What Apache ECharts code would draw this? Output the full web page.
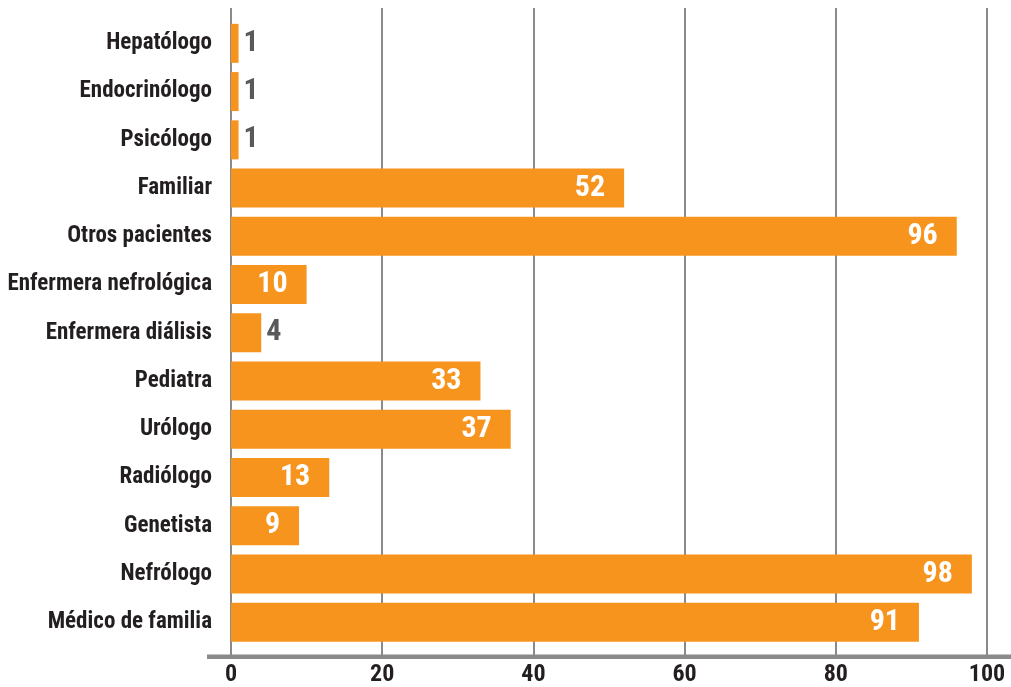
<!DOCTYPE html>
<html>
<head>
<meta charset="utf-8">
<style>
  html, body { margin: 0; padding: 0; background: #ffffff; }
  #chart { width: 1011px; height: 687px; }
</style>
<script src="https://cdn.jsdelivr.net/npm/echarts@6/dist/echarts.min.js"></script>
</head>
<body>
<div id="chart"></div>
<script>
// Professionals consulted, top to bottom
const categories = [
  'Hepatólogo', 'Endocrinólogo', 'Psicólogo', 'Familiar', 'Otros pacientes',
  'Enfermera nefrológica', 'Enfermera diálisis', 'Pediatra', 'Urólogo',
  'Radiólogo', 'Genetista', 'Nefrólogo', 'Médico de familia'
];
const counts = [1, 1, 1, 52, 96, 10, 4, 33, 37, 13, 9, 98, 91];
const axisTicks = [0, 20, 40, 60, 80, 100];

const FONT = '"Roboto Condensed", "Open Sans Condensed", sans-serif';
const ORANGE = '#F7941E';
const GRID_GRAY = '#8a8a8b';

// Short bars get their value outside in gray, longer ones inside in white
const barData = counts.map(v => v < 5
  ? { value: v, label: { position: 'right', color: '#58595b', distance: 5 } }
  : { value: v, label: { position: 'insideRight', color: '#ffffff', distance: 19 } });

const chart = echarts.init(document.getElementById('chart'), null, { renderer: 'canvas' });

chart.setOption({
  animation: false,
  backgroundColor: '#ffffff',
  grid: [
    // grid 0: vertical guide lines and the value axis
    { left: 231, right: 24, top: 8, bottom: 30, outerBoundsMode: 'none', containLabel: false },
    // grid 1: the bars and the category labels
    { left: 231, right: 24, top: 19.2, height: 627.3, outerBoundsMode: 'none', containLabel: false }
  ],
  xAxis: [
    {
      gridIndex: 0, type: 'value',
      min: axisTicks[0], max: axisTicks[axisTicks.length - 1],
      interval: axisTicks[1] - axisTicks[0],
      axisLine: { show: false },
      axisTick: { show: false },
      splitLine: { show: true, lineStyle: { color: GRID_GRAY, width: 2 } },
      axisLabel: {
        margin: 6, color: '#231f20', fontFamily: FONT, fontWeight: 'bold',
        fontSize: 24, verticalAlign: 'top', lineHeight: 24
      }
    },
    {
      gridIndex: 1, type: 'value',
      min: axisTicks[0], max: axisTicks[axisTicks.length - 1],
      show: false
    }
  ],
  yAxis: [
    { gridIndex: 0, type: 'value', show: false },
    {
      gridIndex: 1, type: 'category', data: categories, inverse: true,
      axisLine: { show: false },
      axisTick: { show: false },
      splitLine: { show: false },
      axisLabel: {
        margin: 19, color: '#231f20', fontFamily: FONT, fontWeight: 'bold', fontSize: 23
      }
    }
  ],
  series: [
    {
      type: 'bar',
      xAxisIndex: 1, yAxisIndex: 1,
      data: barData,
      barWidth: 39,
      itemStyle: { color: ORANGE },
      label: {
        show: true, fontFamily: FONT, fontWeight: 'bold', fontSize: 30
      }
    }
  ],
  graphic: [
    // thick baseline under the chart
    {
      type: 'rect',
      shape: { x: 207, y: 654.5, width: 804, height: 4.5 },
      style: { fill: GRID_GRAY },
      z: 10
    }
  ]
});
</script>
</body>
</html>
